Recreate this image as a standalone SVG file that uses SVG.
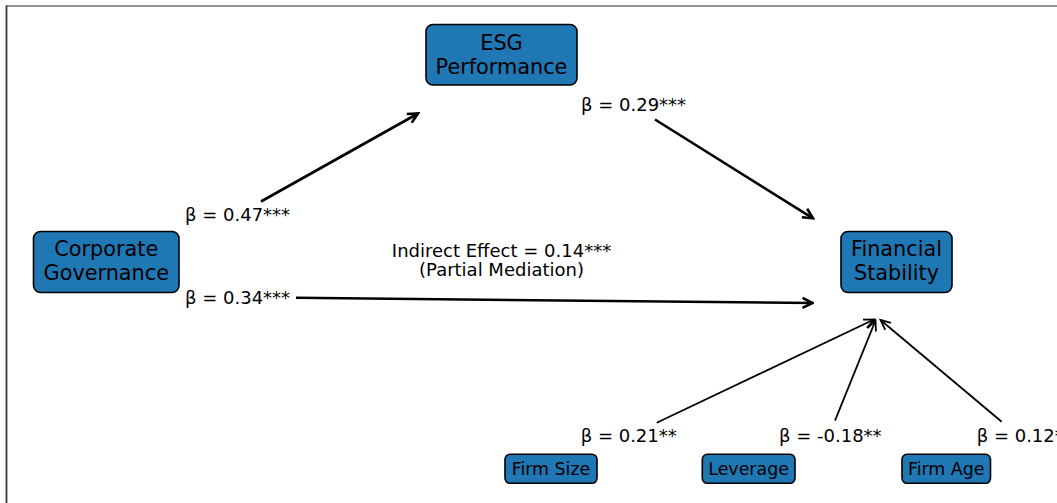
<svg xmlns="http://www.w3.org/2000/svg" width="1057" height="503" viewBox="0 0 1057 503">
<style>
text{font-family:"DejaVu Sans","Liberation Sans",sans-serif;fill:#000}
.big{font-size:20.8px;text-anchor:middle}
.sm{font-size:17.4px;text-anchor:middle}
.lbl{font-size:18px}
.mid{font-size:18px;text-anchor:middle}
.box{fill:#1f77b4;stroke:#000;stroke-width:1.6}
.main{stroke:#000;stroke-width:2.6;fill:none;marker-end:url(#hm)}
.thin{stroke:#000;stroke-width:1.8;fill:none;marker-end:url(#hs)}
</style>
<defs>
<marker id="hm" markerUnits="userSpaceOnUse" viewBox="-12 -7 14 14" markerWidth="14" markerHeight="14" refX="0" refY="0" orient="auto">
<path d="M-10,-5 L0,0 L-10,5" fill="none" stroke="#000" stroke-width="2.6"/>
</marker>
<marker id="hs" markerUnits="userSpaceOnUse" viewBox="-12 -7 14 14" markerWidth="14" markerHeight="14" refX="0" refY="0" orient="auto">
<path d="M-10,-4.5 L0,0 L-10,4.5" fill="none" stroke="#000" stroke-width="1.8"/>
</marker>
</defs>
<rect width="1057" height="503" fill="#fff"/>
<line x1="6" y1="6" x2="1057" y2="6" stroke="#707070" stroke-width="1.6"/>
<line x1="6.5" y1="5.5" x2="6.5" y2="503" stroke="#3a3a3a" stroke-width="1.8"/>
<g id="connectors">
<line class="main" x1="261" y1="201.5" x2="418" y2="113.5"/>
<line class="main" x1="655" y1="119.5" x2="813" y2="218.3"/>
<line class="main" x1="296" y1="297.8" x2="812.5" y2="303"/>
<line class="thin" x1="656.7" y1="422.7" x2="874" y2="319.5"/>
<line class="thin" x1="835" y1="420.7" x2="875.5" y2="320.5"/>
<line class="thin" x1="1001.7" y1="421.7" x2="880.5" y2="320"/>
</g>
<g id="labels">
<text class="lbl" x="581" y="111">β = 0.29***</text>
<text class="lbl" x="185" y="221">β = 0.47***</text>
<text class="lbl" x="185" y="303.5">β = 0.34***</text>
<text class="mid" x="501.5" y="256.5">Indirect Effect = 0.14***</text>
<text class="mid" x="501.5" y="276">(Partial Mediation)</text>
<text class="lbl" x="580.7" y="442">β = 0.21**</text>
<text class="lbl" x="779" y="442">β = -0.18**</text>
<text class="lbl" x="976.7" y="442">β = 0.12**</text>
</g>
<g id="esg">
<rect class="box" x="426" y="24.5" width="151" height="60.5" rx="7"/>
<text class="big" x="501.5" y="50">ESG</text>
<text class="big" x="501.5" y="74">Performance</text>
</g>
<g id="cg">
<rect class="box" x="33.5" y="231.5" width="145.5" height="61" rx="7"/>
<text class="big" x="106.3" y="256">Corporate</text>
<text class="big" x="106.3" y="280">Governance</text>
</g>
<g id="fs">
<rect class="box" x="841" y="231.5" width="111" height="61" rx="7"/>
<text class="big" x="896.5" y="256">Financial</text>
<text class="big" x="896.5" y="280">Stability</text>
</g>
<g id="firmsize">
<rect class="box" x="505" y="454.3" width="92" height="29" rx="5"/>
<text class="sm" x="551" y="474.5">Firm Size</text>
</g>
<g id="leverage">
<rect class="box" x="702.3" y="454.3" width="92.7" height="29" rx="5"/>
<text class="sm" x="748.6" y="474.5">Leverage</text>
</g>
<g id="firmage">
<rect class="box" x="902" y="454.3" width="88.5" height="29" rx="5"/>
<text class="sm" x="946.2" y="474.5">Firm Age</text>
</g>
</svg>
